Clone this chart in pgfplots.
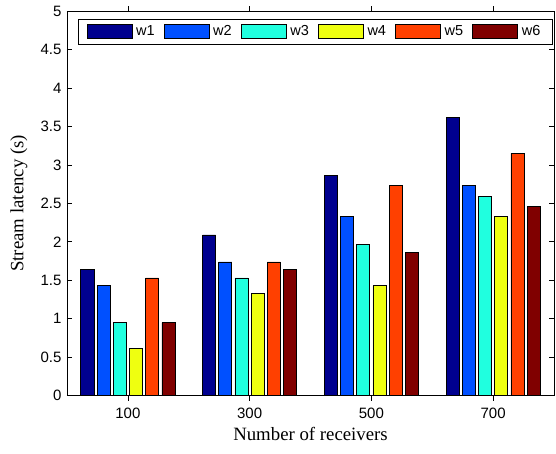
\documentclass[border=0pt]{standalone}
\usepackage{fontspec}
\setmainfont{Liberation Serif}
\newfontfamily\arial{Liberation Sans}
\usepackage{pgfplots}
\pgfplotsset{compat=1.18}
\definecolor{c1}{RGB}{0,0,143}
\definecolor{c2}{RGB}{0,80,255}
\definecolor{c3}{RGB}{32,255,223}
\definecolor{c4}{RGB}{239,255,16}
\definecolor{c5}{RGB}{255,64,0}
\definecolor{c6}{RGB}{128,0,0}
\pgfplotsset{mybar/.style={fill=#1, draw=black, line width=0.6pt,
  legend image code/.code={\draw[fill=#1, draw=black, line width=0.6pt] (0pt,-7pt) rectangle (45pt,7pt);}}}
\begin{document}
\begin{tikzpicture}
\begin{axis}[
  scale only axis, width=487pt, height=384.7pt,
  xmin=0.5, xmax=4.5, ymin=0, ymax=5,
  xtick={1,2,3,4}, xticklabels={100,300,500,700},
  ytick={0,0.5,1,1.5,2,2.5,3,3.5,4,4.5,5},
  yticklabels={0,0.5,1,1.5,2,2.5,3,3.5,4,4.5,5},
  tick align=inside, major tick length=5pt,
  axis line style={line width=0.75pt}, every tick/.style={line width=0.75pt, black},
  /pgf/number format/assume math mode=true,
  ticklabel style={font=\arial\fontsize{15}{18}\selectfont},
  yticklabel style={xshift=-2pt},
  xticklabel style={yshift=-4pt},
  ybar, bar width=0.107,
  xlabel={Number of receivers}, ylabel={Stream latency (s)},
  every axis x label/.style={at={(axis description cs:0.5,0)}, yshift=-38pt, anchor=center, font=\fontsize{18.8}{22}\selectfont},
  every axis y label/.style={at={(axis description cs:0,0.5)}, xshift=-48pt, rotate=90, anchor=center, font=\fontsize{18.8}{22}\selectfont},
  legend columns=6,
  legend style={at={(1,1)}, anchor=north east, xshift=-1.3pt, yshift=-8pt,
    draw=black, line width=0.75pt, inner xsep=8pt, inner ysep=5pt,
    font=\arial\fontsize{14.5}{17}\selectfont,
    nodes={inner xsep=4pt, inner ysep=0pt},
    /tikz/every even column/.append style={column sep=5pt}},
]
\addplot[mybar=c1, bar shift=-0.3333] coordinates {(1,1.64) (2,2.09) (3,2.86) (4,3.62)};
\addplot[mybar=c2, bar shift=-0.2] coordinates {(1,1.43) (2,1.74) (3,2.33) (4,2.73)};
\addplot[mybar=c3, bar shift=-0.0667] coordinates {(1,0.95) (2,1.53) (3,1.97) (4,2.59)};
\addplot[mybar=c4, bar shift=0.0667] coordinates {(1,0.61) (2,1.33) (3,1.43) (4,2.33)};
\addplot[mybar=c5, bar shift=0.2] coordinates {(1,1.53) (2,1.74) (3,2.73) (4,3.15)};
\addplot[mybar=c6, bar shift=0.3333] coordinates {(1,0.95) (2,1.64) (3,1.86) (4,2.46)};
\legend{w1,w2,w3,w4,w5,w6}
\end{axis}
\pgfresetboundingbox
\useasboundingbox (-67pt,-57.3pt) rectangle (489pt,395.7pt);
\end{tikzpicture}
\end{document}
